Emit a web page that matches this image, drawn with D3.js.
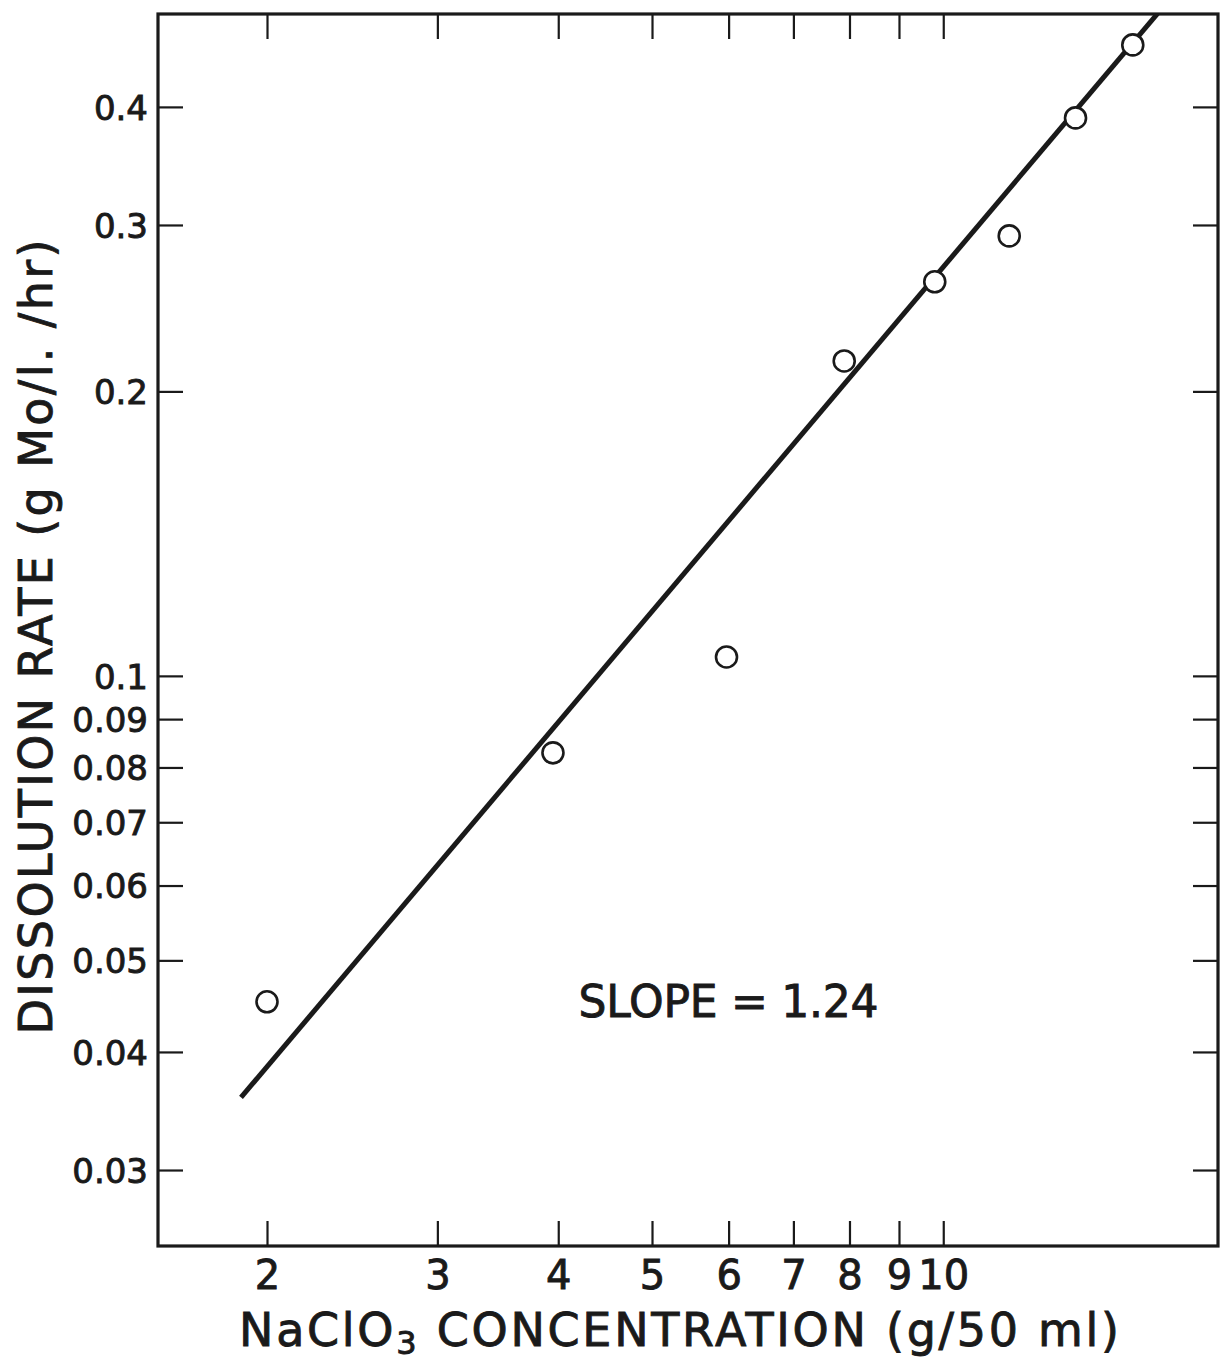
<!DOCTYPE html>
<html>
<head>
<meta charset="utf-8">
<script src="https://cdn.jsdelivr.net/npm/d3@7"></script>
<style>
  body { margin: 0; background: #fff; }
  svg text { font-family: "DejaVu Sans", sans-serif; fill: #1a1a1a; stroke: #1a1a1a; stroke-width: 0.9px; }
</style>
</head>
<body>
<div id="chart"></div>
<script>
// measured points (NaClO3 g/50 ml vs dissolution rate g Mo/l/hr)
var concentration = [2.0, 3.95, 5.97, 7.9, 9.8, 11.7, 13.7, 15.7];
var rate = [0.0452, 0.0829, 0.1047, 0.2154, 0.2612, 0.2921, 0.3894, 0.4652];

// fitted line end points
var fitX = [1.88, 16.65];
var fitY = [0.0358, 0.502];

var xTicks = [2, 3, 4, 5, 6, 7, 8, 9, 10];
var xTickLabels = ["2", "3", "4", "5", "6", "7", "8", "9", "10"];
var yTicks = [0.03, 0.04, 0.05, 0.06, 0.07, 0.08, 0.09, 0.1, 0.2, 0.3, 0.4];
var yTickLabels = ["0.03", "0.04", "0.05", "0.06", "0.07", "0.08", "0.09", "0.1", "0.2", "0.3", "0.4"];

var W = 1222, H = 1361;
var margin = {top: 14, right: 4, bottom: 115, left: 158};
var width = W - margin.left - margin.right,
    height = H - margin.top - margin.bottom;

var svg = d3.select("#chart").append("svg")
    .attr("width", W)
    .attr("height", H);

var g = svg.append("g")
    .attr("transform", "translate(" + margin.left + "," + margin.top + ")");

var x = d3.scaleLog().domain([1.543, 19.23]).range([0, width]);
var y = d3.scaleLog().domain([0.02493, 0.5016]).range([height, 0]);

var tick = 25;

// axes with ticks pointing inward
var xBottom = d3.axisBottom(x).tickValues(xTicks)
    .tickFormat(function(d, i) { return xTickLabels[i]; })
    .tickSizeInner(-tick).tickSizeOuter(0).tickPadding(15);
var xTop = d3.axisTop(x).tickValues(xTicks).tickFormat("")
    .tickSizeInner(-tick).tickSizeOuter(0);
var yLeft = d3.axisLeft(y).tickValues(yTicks)
    .tickFormat(function(d, i) { return yTickLabels[i]; })
    .tickSizeInner(-tick).tickSizeOuter(0).tickPadding(10);
var yRight = d3.axisRight(y).tickValues(yTicks).tickFormat("")
    .tickSizeInner(-tick).tickSizeOuter(0);

var gx = g.append("g").attr("transform", "translate(0," + height + ")").call(xBottom);
g.append("g").call(xTop);
var gy = g.append("g").call(yLeft);
g.append("g").attr("transform", "translate(" + width + ",0)").call(yRight);

g.selectAll(".domain").remove();
g.selectAll(".tick line").attr("stroke", "#1a1a1a").attr("stroke-width", 2.2);

gx.selectAll(".tick text")
    .attr("font-size", 40)
    .attr("font-family", "'DejaVu Sans Condensed', 'DejaVu Sans', sans-serif")
    .attr("fill", "#1a1a1a");
gy.selectAll(".tick text")
    .attr("font-size", 34)
    .attr("dy", "0.36em")
    .attr("fill", "#1a1a1a");

// frame
g.append("rect")
    .attr("x", 0).attr("y", 0)
    .attr("width", width).attr("height", height)
    .attr("fill", "none")
    .attr("stroke", "#1a1a1a")
    .attr("stroke-width", 3.2);

// clip for the fitted line
g.append("clipPath").attr("id", "clip")
  .append("rect").attr("width", width).attr("height", height);

var fit = fitX.map(function(d, i) { return [d, fitY[i]]; });
g.append("path")
    .datum(fit)
    .attr("clip-path", "url(#clip)")
    .attr("fill", "none")
    .attr("stroke", "#1a1a1a")
    .attr("stroke-width", 5)
    .attr("d", d3.line()
        .x(function(d) { return x(d[0]); })
        .y(function(d) { return y(d[1]); }));

// data circles
g.selectAll(".pt")
    .data(concentration)
  .enter().append("circle")
    .attr("class", "pt")
    .attr("cx", function(d) { return x(d); })
    .attr("cy", function(d, i) { return y(rate[i]); })
    .attr("r", 10.5)
    .attr("fill", "#fff")
    .attr("stroke", "#1a1a1a")
    .attr("stroke-width", 2.6);

// slope annotation
g.append("text")
    .attr("x", x(6.0))
    .attr("y", y(0.0452) + 15)
    .attr("text-anchor", "middle")
    .attr("font-size", 44)
    .attr("textLength", 300)
    .attr("lengthAdjust", "spacing")
    .text("SLOPE = 1.24");

// x axis title
var xt = svg.append("text")
    .attr("x", 679)
    .attr("y", 1346)
    .attr("text-anchor", "middle")
    .attr("font-size", 46)
    .attr("textLength", 880)
    .attr("lengthAdjust", "spacing");
xt.append("tspan").text("NaClO");
xt.append("tspan").attr("dy", 8).attr("font-size", 32).text("3");
xt.append("tspan").attr("dy", -8).text(" CONCENTRATION  (g/50 ml)");

// y axis title
svg.append("text")
    .attr("transform", "translate(52,637) rotate(-90)")
    .attr("text-anchor", "middle")
    .attr("font-size", 46)
    .attr("textLength", 795)
    .attr("lengthAdjust", "spacing")
    .text("DISSOLUTION  RATE  (g Mo/l. /hr)");
</script>
</body>
</html>
